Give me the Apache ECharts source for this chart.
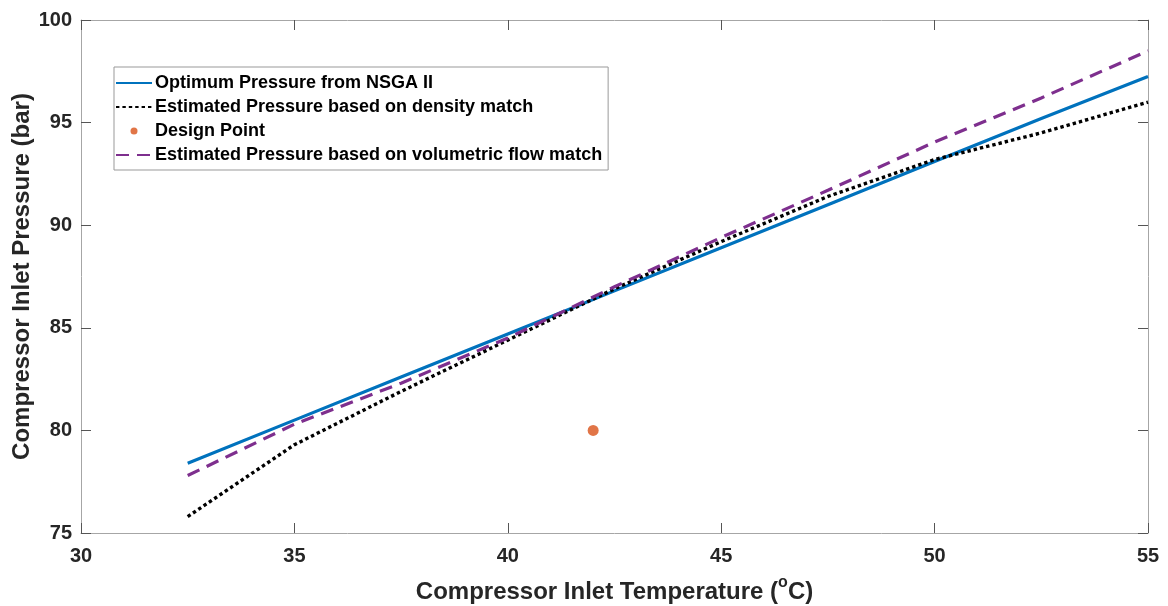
<!DOCTYPE html>
<html>
<head>
<meta charset="utf-8">
<script src="https://cdn.jsdelivr.net/npm/echarts@6/dist/echarts.min.js"></script>
<style>html,body{margin:0;padding:0;background:#fff;}#c{width:1168px;height:606px;}</style>
</head>
<body>
<div id="c"></div>
<script>
// Temperatures (°C)
const temps = [32.5, 35, 37.5, 40, 42.5, 45, 47.5, 50, 52.5, 55];
// Optimum Pressure from NSGA II (bar)
const nsga = [78.4, 80.5, 82.6, 84.7, 86.8, 88.9, 91.0, 93.1, 95.2, 97.25];
// Estimated Pressure based on density match (bar)
const density = [75.8, 79.3, 81.9, 84.4, 86.9, 89.2, 91.4, 93.2, 94.5, 96.0];
// Estimated Pressure based on volumetric flow match (bar)
const volumetric = [77.8, 80.3, 82.3, 84.5, 87.0, 89.4, 91.7, 94.05, 96.2, 98.5];
// Design point
const designPoint = [[42, 80]];
// Axis ticks
const xTicks = [30, 35, 40, 45, 50, 55];
const yTicks = [75, 80, 85, 90, 95, 100];

const names = ['Optimum Pressure from NSGA II', 'Estimated Pressure based on density match', 'Design Point', 'Estimated Pressure based on volumetric flow match'];
const pair = (xs, ys) => xs.map((x, i) => [x, ys[i]]);

const font = 'Liberation Sans, Arial, sans-serif';
const axisLineColor = '#a6a6a6';
const tickColor = '#555';
const labelStyle = {fontFamily: font, fontWeight: 'bold', fontSize: 20, color: '#262626'};

const xMin = xTicks[0], xMax = xTicks[xTicks.length - 1], xInt = xTicks[1] - xTicks[0];
const yMin = yTicks[0], yMax = yTicks[yTicks.length - 1], yInt = yTicks[1] - yTicks[0];

const hideSym = {opacity: 0};

const chart = echarts.init(document.getElementById('c'), null, {renderer: 'canvas'});
chart.setOption({
  animation: false,
  backgroundColor: '#fff',
  grid: {left: 81, top: 20, right: 20, bottom: 73, containLabel: false, outerBoundsMode: 'none'},
  xAxis: [{
    type: 'value', min: xMin, max: xMax, interval: xInt,
    name: '{n|Compressor Inlet Temperature (}{sup|o}{n|C)}',
    nameLocation: 'middle', nameGap: 42, nameMoveOverlap: false,
    nameTextStyle: {fontFamily: font, fontWeight: 'bold', fontSize: 24, color: '#262626',
      rich: {
        n: {fontFamily: font, fontWeight: 'bold', fontSize: 24, color: '#262626', lineHeight: 29, verticalAlign: 'bottom'},
        sup: {fontFamily: font, fontWeight: 'bold', fontSize: 16, color: '#262626', lineHeight: 16, verticalAlign: 'top'}
      }},
    axisLine: {show: true, lineStyle: {color: axisLineColor, width: 1}},
    axisTick: {show: true, inside: true, length: 10, lineStyle: {color: tickColor}},
    axisLabel: Object.assign({margin: 13}, labelStyle),
    splitLine: {show: false}
  }, {
    type: 'value', position: 'top', min: xMin, max: xMax, interval: xInt,
    axisLine: {show: true, lineStyle: {color: axisLineColor, width: 1}},
    axisTick: {show: true, inside: true, length: 10, lineStyle: {color: tickColor}},
    axisLabel: {show: false}, splitLine: {show: false}
  }],
  yAxis: [{
    type: 'value', min: yMin, max: yMax, interval: yInt,
    name: 'Compressor Inlet Pressure (bar)',
    nameLocation: 'middle', nameGap: 47, nameMoveOverlap: false,
    nameTextStyle: {fontFamily: font, fontWeight: 'bold', fontSize: 24, color: '#262626'},
    axisLine: {show: true, lineStyle: {color: axisLineColor, width: 1}},
    axisTick: {show: true, inside: true, length: 10, lineStyle: {color: tickColor}},
    axisLabel: Object.assign({margin: 9}, labelStyle),
    splitLine: {show: false}
  }, {
    type: 'value', position: 'right', min: yMin, max: yMax, interval: yInt,
    axisLine: {show: true, lineStyle: {color: axisLineColor, width: 1}},
    axisTick: {show: true, inside: true, length: 10, lineStyle: {color: tickColor}},
    axisLabel: {show: false}, splitLine: {show: false}
  }],
  legend: {
    orient: 'vertical', left: 114, top: 67,
    backgroundColor: '#fff',
    borderColor: '#999', borderWidth: 1,
    padding: [7, 6, 6, 1],
    itemWidth: 36, itemHeight: 7, itemGap: 6,
    textStyle: {fontFamily: font, fontWeight: 'bold', fontSize: 18, color: '#000', padding: [0, 0, 0, -2]},
    data: [
      {name: names[0], itemStyle: hideSym},
      {name: names[1], itemStyle: hideSym},
      {name: names[2], icon: 'circle'},
      {name: names[3], itemStyle: hideSym}
    ]
  },
  series: [{
    name: names[0], type: 'line', data: pair(temps, nsga),
    showSymbol: false, symbol: 'none', smooth: false,
    lineStyle: {color: '#0072BD', width: 3.2}, itemStyle: {color: '#0072BD'}, z: 3
  }, {
    name: names[1], type: 'line', data: pair(temps, density),
    showSymbol: false, symbol: 'none',
    lineStyle: {color: '#000', width: 3.4, type: [3.4, 3]}, itemStyle: {color: '#000'}, z: 4
  }, {
    name: names[2], type: 'scatter', data: designPoint,
    symbol: 'circle', symbolSize: 11,
    itemStyle: {color: '#D95319'}, z: 5
  }, {
    name: names[3], type: 'line', data: pair(temps, volumetric),
    showSymbol: false, symbol: 'none',
    lineStyle: {color: '#7E2F8E', width: 3.2, type: [13, 8]}, itemStyle: {color: '#7E2F8E'}, z: 5
  }]
});
</script>
</body>
</html>
